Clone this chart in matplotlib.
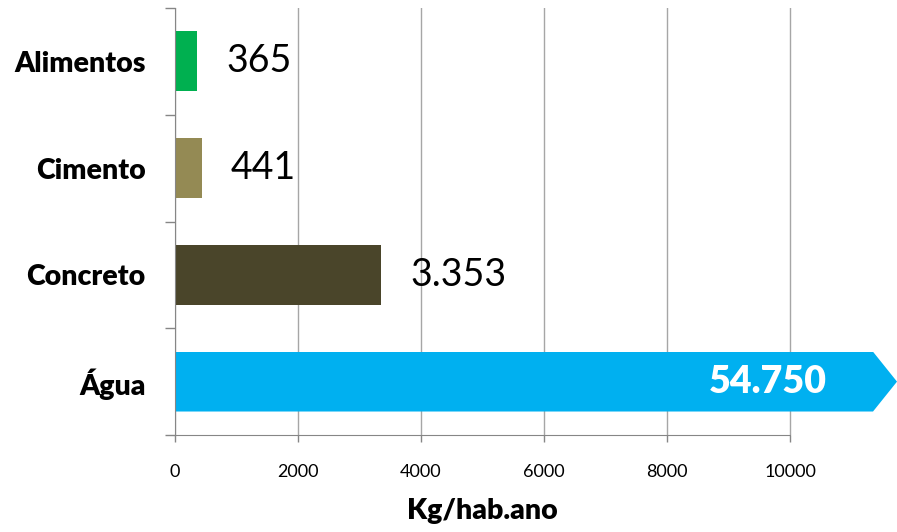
import matplotlib
matplotlib.use("Agg")
import matplotlib.pyplot as plt
import matplotlib.patches as mpatches
import matplotlib.transforms as mtransforms

plt.rcParams["font.family"] = ["Lato", "DejaVu Sans"]

# consumption per inhabitant per year (kg)
categories = ["Água", "Concreto", "Cimento", "Alimentos"]
values = [54750, 3353, 441, 365]
colors = ["#00B0F0", "#4A452A", "#948A54", "#00B050"]
xticks = [0, 2000, 4000, 6000, 8000, 10000]

GRID = "#A6A6A6"
AXIS = "#868686"

W, H = 897, 532
fig = plt.figure(figsize=(W / 100, H / 100), dpi=100)
ax = fig.add_axes([175 / W, 1 - 435 / H, (W - 175) / W, (435 - 8) / H])

bar_h = 0.56
x_end = 11740           # right edge of the axes (arrow tip)
x_body = 11350          # where the arrow head starts
bars = ax.barh(range(len(categories)), values, height=bar_h, color=colors, zorder=2)

# the first bar runs off the scale: cut it into an arrow at the right edge
y0, y1 = -bar_h / 2, bar_h / 2
arrow = mpatches.Polygon([(0, y0), (x_body, y0), (x_end, 0), (x_body, y1), (0, y1)],
                         closed=True, transform=ax.transData, facecolor="none",
                         edgecolor="none")
bars[0].set_clip_path(arrow)

ax.set_xlim(0, x_end)
ax.set_ylim(-0.5, len(categories) - 0.5)

fmt = lambda v: f"{v:,}".replace(",", ".")
for i, v in enumerate(values):
    if v > xticks[-1]:
        ax.annotate(fmt(v), xy=(1, i), xycoords=("axes fraction", "data"),
                    xytext=(-70, 0), textcoords="offset pixels",
                    ha="right", va="center", fontsize=27, fontweight="heavy",
                    color="white", zorder=3)
    else:
        ax.annotate(fmt(v), xy=(v, i), xytext=(29, 0), textcoords="offset pixels",
                    ha="left", va="center", fontsize=27, color="black", zorder=3)

# x axis
ax.set_xticks(xticks, labels=[str(t) for t in xticks])
ax.tick_params(axis="x", direction="out", length=5, width=1, color=AXIS,
               labelsize=13, pad=16)
ax.grid(axis="x", color=GRID, linewidth=1)
ax.set_axisbelow(True)

# y axis: ticks between categories, labels at centres
ax.set_yticks([i - 0.5 for i in range(len(categories) + 1)], labels=[])
ax.set_yticks(range(len(categories)), labels=categories, minor=True)
ax.tick_params(axis="y", which="major", direction="out", length=7.2, width=1, color=AXIS)
ax.tick_params(axis="y", which="minor", length=0, pad=21, labelsize=20.5)
for lab in ax.get_yticklabels(minor=True):
    lab.set_fontweight("heavy")

for s in ("top", "right"):
    ax.spines[s].set_visible(False)
ax.spines["left"].set_color(AXIS)
ax.spines["bottom"].set_color(AXIS)
ax.spines["bottom"].set_bounds(0, xticks[-1])

trans = mtransforms.blended_transform_factory(ax.transData, fig.transFigure)
ax.text(xticks[-1] / 2, 1 - 511 / H, "Kg/hab.ano", transform=trans,
        ha="center", va="center", fontsize=20.5, fontweight="heavy")

fig.savefig("out.png", dpi=100)
